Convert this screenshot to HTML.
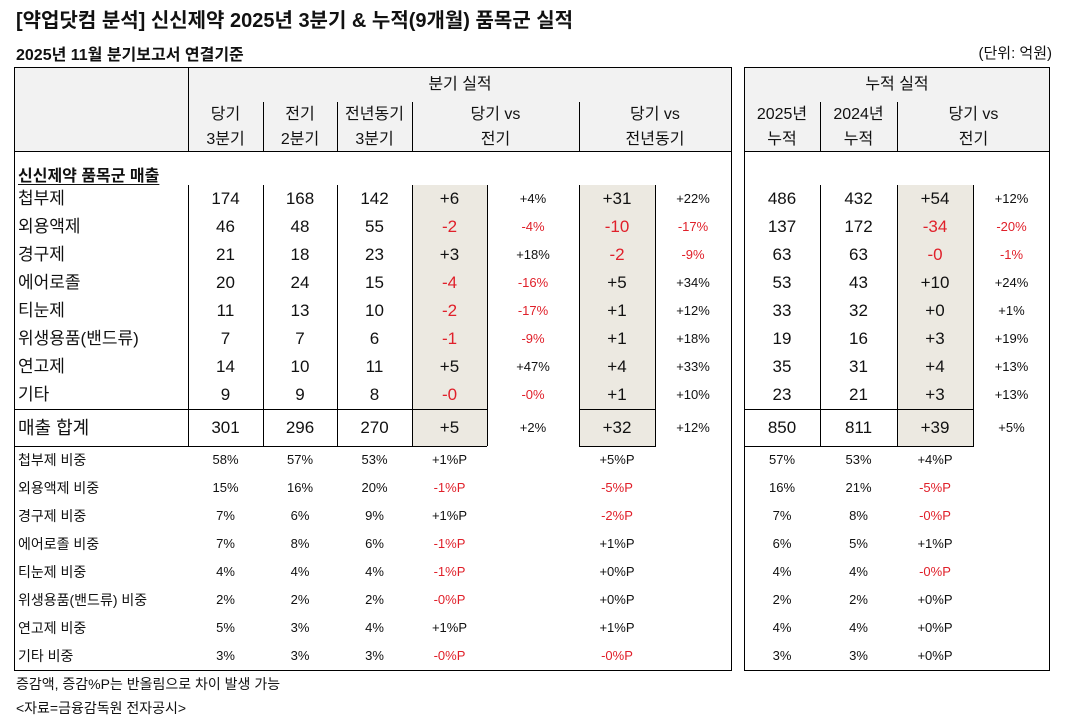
<!DOCTYPE html>
<html><head><meta charset="utf-8"><style>
*{margin:0;padding:0;box-sizing:border-box}
body{width:1068px;height:720px;background:#fff;position:relative;overflow:hidden;font-family:"Liberation Sans","Noto Sans CJK KR","NanumGothic",sans-serif;color:#111}
div{position:absolute}
.t{white-space:nowrap}
.v{width:1px;background:#000}
.h{height:1px;background:#000}
.sh{background:#ecE9E1}
.r{height:28px;line-height:28px;font-size:17px;text-align:center}
.s{height:28px;line-height:28px;font-size:13px;text-align:center}
.red{color:#e0202a}
.L{left:18px;text-align:left}
.a{left:188px;width:75px}.b{left:263px;width:74px}.c{left:337px;width:75px}.d{left:412px;width:75px}
.e{left:487px;width:92px}.f{left:579px;width:76px}.g{left:655px;width:76px}
.p{left:744px;width:76px}.q{left:820px;width:77px}.w{left:897px;width:76px}.x{left:973px;width:77px}
.hd{font-size:16px;text-align:center;line-height:25px}
</style></head><body>
<div class="t" style="left:16px;top:4px;font-size:20px;font-weight:bold">[약업닷컴 분석] 신신제약 2025년 3분기 &amp; 누적(9개월) 품목군 실적</div>
<div class="t" style="left:16px;top:41px;font-size:16px;font-weight:bold">2025년 11월 분기보고서 연결기준</div>
<div class="t" style="right:16px;top:42px;font-size:15px">(단위: 억원)</div>

<div style="left:14px;top:67px;width:718px;height:84px;background:#f2f2f2"></div>
<div style="left:744px;top:67px;width:306px;height:84px;background:#f2f2f2"></div>
<div class="sh" style="left:412px;top:185px;width:75px;height:261px"></div>
<div class="sh" style="left:579px;top:185px;width:76px;height:261px"></div>
<div class="sh" style="left:897px;top:185px;width:76px;height:261px"></div>

<div style="left:14px;top:67px;width:718px;height:604px;border:1px solid #000"></div>
<div style="left:744px;top:67px;width:306px;height:604px;border:1px solid #000"></div>
<div class="h" style="left:14px;top:151px;width:718px"></div>
<div class="h" style="left:744px;top:151px;width:306px"></div>
<div class="v" style="left:188px;top:67px;height:84px"></div>
<div class="v" style="left:263px;top:102px;height:49px"></div>
<div class="v" style="left:337px;top:102px;height:49px"></div>
<div class="v" style="left:412px;top:102px;height:49px"></div>
<div class="v" style="left:579px;top:102px;height:49px"></div>
<div class="v" style="left:820px;top:102px;height:49px"></div>
<div class="v" style="left:897px;top:102px;height:49px"></div>
<div class="v" style="left:188px;top:185px;height:261px"></div>
<div class="v" style="left:263px;top:185px;height:261px"></div>
<div class="v" style="left:337px;top:185px;height:261px"></div>
<div class="v" style="left:412px;top:185px;height:261px"></div>
<div class="v" style="left:487px;top:185px;height:261px"></div>
<div class="v" style="left:579px;top:185px;height:261px"></div>
<div class="v" style="left:655px;top:185px;height:261px"></div>
<div class="v" style="left:820px;top:185px;height:261px"></div>
<div class="v" style="left:897px;top:185px;height:261px"></div>
<div class="v" style="left:973px;top:185px;height:261px"></div>
<div class="h" style="left:14px;top:409px;width:473px"></div>
<div class="h" style="left:14px;top:446px;width:473px"></div>
<div class="h" style="left:579px;top:409px;width:77px"></div>
<div class="h" style="left:579px;top:446px;width:77px"></div>
<div class="h" style="left:744px;top:409px;width:230px"></div>
<div class="h" style="left:744px;top:446px;width:230px"></div>

<div class="hd" style="left:188px;width:544px;top:72px">분기 실적</div>
<div class="hd" style="left:744px;width:306px;top:72px">누적 실적</div>
<div class="hd a" style="top:102px">당기<br>3분기</div>
<div class="hd b" style="top:102px">전기<br>2분기</div>
<div class="hd c" style="top:102px">전년동기<br>3분기</div>
<div class="hd" style="left:412px;width:167px;top:102px">당기 vs<br>전기</div>
<div class="hd" style="left:579px;width:152px;top:102px">당기 vs<br>전년동기</div>
<div class="hd p" style="top:102px">2025년<br>누적</div>
<div class="hd q" style="top:102px">2024년<br>누적</div>
<div class="hd" style="left:897px;width:153px;top:102px">당기 vs<br>전기</div>
<div class="t" style="left:18px;top:162px;font-size:16px;font-weight:bold;text-decoration:underline;text-underline-offset:3px">신신제약 품목군 매출</div>

<div class="r t L" style="top:185px">첩부제</div><div class="r a" style="top:185px">174</div><div class="r b" style="top:185px">168</div><div class="r c" style="top:185px">142</div><div class="r d" style="top:185px">+6</div><div class="s e" style="top:185px">+4%</div><div class="r f" style="top:185px">+31</div><div class="s g" style="top:185px">+22%</div><div class="r p" style="top:185px">486</div><div class="r q" style="top:185px">432</div><div class="r w" style="top:185px">+54</div><div class="s x" style="top:185px">+12%</div>
<div class="r t L" style="top:213px">외용액제</div><div class="r a" style="top:213px">46</div><div class="r b" style="top:213px">48</div><div class="r c" style="top:213px">55</div><div class="r d red" style="top:213px">-2</div><div class="s e red" style="top:213px">-4%</div><div class="r f red" style="top:213px">-10</div><div class="s g red" style="top:213px">-17%</div><div class="r p" style="top:213px">137</div><div class="r q" style="top:213px">172</div><div class="r w red" style="top:213px">-34</div><div class="s x red" style="top:213px">-20%</div>
<div class="r t L" style="top:241px">경구제</div><div class="r a" style="top:241px">21</div><div class="r b" style="top:241px">18</div><div class="r c" style="top:241px">23</div><div class="r d" style="top:241px">+3</div><div class="s e" style="top:241px">+18%</div><div class="r f red" style="top:241px">-2</div><div class="s g red" style="top:241px">-9%</div><div class="r p" style="top:241px">63</div><div class="r q" style="top:241px">63</div><div class="r w red" style="top:241px">-0</div><div class="s x red" style="top:241px">-1%</div>
<div class="r t L" style="top:269px">에어로졸</div><div class="r a" style="top:269px">20</div><div class="r b" style="top:269px">24</div><div class="r c" style="top:269px">15</div><div class="r d red" style="top:269px">-4</div><div class="s e red" style="top:269px">-16%</div><div class="r f" style="top:269px">+5</div><div class="s g" style="top:269px">+34%</div><div class="r p" style="top:269px">53</div><div class="r q" style="top:269px">43</div><div class="r w" style="top:269px">+10</div><div class="s x" style="top:269px">+24%</div>
<div class="r t L" style="top:297px">티눈제</div><div class="r a" style="top:297px">11</div><div class="r b" style="top:297px">13</div><div class="r c" style="top:297px">10</div><div class="r d red" style="top:297px">-2</div><div class="s e red" style="top:297px">-17%</div><div class="r f" style="top:297px">+1</div><div class="s g" style="top:297px">+12%</div><div class="r p" style="top:297px">33</div><div class="r q" style="top:297px">32</div><div class="r w" style="top:297px">+0</div><div class="s x" style="top:297px">+1%</div>
<div class="r t L" style="top:325px">위생용품(밴드류)</div><div class="r a" style="top:325px">7</div><div class="r b" style="top:325px">7</div><div class="r c" style="top:325px">6</div><div class="r d red" style="top:325px">-1</div><div class="s e red" style="top:325px">-9%</div><div class="r f" style="top:325px">+1</div><div class="s g" style="top:325px">+18%</div><div class="r p" style="top:325px">19</div><div class="r q" style="top:325px">16</div><div class="r w" style="top:325px">+3</div><div class="s x" style="top:325px">+19%</div>
<div class="r t L" style="top:353px">연고제</div><div class="r a" style="top:353px">14</div><div class="r b" style="top:353px">10</div><div class="r c" style="top:353px">11</div><div class="r d" style="top:353px">+5</div><div class="s e" style="top:353px">+47%</div><div class="r f" style="top:353px">+4</div><div class="s g" style="top:353px">+33%</div><div class="r p" style="top:353px">35</div><div class="r q" style="top:353px">31</div><div class="r w" style="top:353px">+4</div><div class="s x" style="top:353px">+13%</div>
<div class="r t L" style="top:381px">기타</div><div class="r a" style="top:381px">9</div><div class="r b" style="top:381px">9</div><div class="r c" style="top:381px">8</div><div class="r d red" style="top:381px">-0</div><div class="s e red" style="top:381px">-0%</div><div class="r f" style="top:381px">+1</div><div class="s g" style="top:381px">+10%</div><div class="r p" style="top:381px">23</div><div class="r q" style="top:381px">21</div><div class="r w" style="top:381px">+3</div><div class="s x" style="top:381px">+13%</div>
<div class="r t L" style="top:414px;font-size:18px">매출 합계</div><div class="r a" style="top:414px">301</div><div class="r b" style="top:414px">296</div><div class="r c" style="top:414px">270</div><div class="r d" style="top:414px">+5</div><div class="s e" style="top:414px">+2%</div><div class="r f" style="top:414px">+32</div><div class="s g" style="top:414px">+12%</div><div class="r p" style="top:414px">850</div><div class="r q" style="top:414px">811</div><div class="r w" style="top:414px">+39</div><div class="s x" style="top:414px">+5%</div>

<div class="s t L" style="top:446px;font-size:14px">첩부제 비중</div><div class="s a" style="top:446px">58%</div><div class="s b" style="top:446px">57%</div><div class="s c" style="top:446px">53%</div><div class="s d" style="top:446px">+1%P</div><div class="s f" style="top:446px">+5%P</div><div class="s p" style="top:446px">57%</div><div class="s q" style="top:446px">53%</div><div class="s w" style="top:446px">+4%P</div>
<div class="s t L" style="top:474px;font-size:14px">외용액제 비중</div><div class="s a" style="top:474px">15%</div><div class="s b" style="top:474px">16%</div><div class="s c" style="top:474px">20%</div><div class="s d red" style="top:474px">-1%P</div><div class="s f red" style="top:474px">-5%P</div><div class="s p" style="top:474px">16%</div><div class="s q" style="top:474px">21%</div><div class="s w red" style="top:474px">-5%P</div>
<div class="s t L" style="top:502px;font-size:14px">경구제 비중</div><div class="s a" style="top:502px">7%</div><div class="s b" style="top:502px">6%</div><div class="s c" style="top:502px">9%</div><div class="s d" style="top:502px">+1%P</div><div class="s f red" style="top:502px">-2%P</div><div class="s p" style="top:502px">7%</div><div class="s q" style="top:502px">8%</div><div class="s w red" style="top:502px">-0%P</div>
<div class="s t L" style="top:530px;font-size:14px">에어로졸 비중</div><div class="s a" style="top:530px">7%</div><div class="s b" style="top:530px">8%</div><div class="s c" style="top:530px">6%</div><div class="s d red" style="top:530px">-1%P</div><div class="s f" style="top:530px">+1%P</div><div class="s p" style="top:530px">6%</div><div class="s q" style="top:530px">5%</div><div class="s w" style="top:530px">+1%P</div>
<div class="s t L" style="top:558px;font-size:14px">티눈제 비중</div><div class="s a" style="top:558px">4%</div><div class="s b" style="top:558px">4%</div><div class="s c" style="top:558px">4%</div><div class="s d red" style="top:558px">-1%P</div><div class="s f" style="top:558px">+0%P</div><div class="s p" style="top:558px">4%</div><div class="s q" style="top:558px">4%</div><div class="s w red" style="top:558px">-0%P</div>
<div class="s t L" style="top:586px;font-size:14px">위생용품(밴드류) 비중</div><div class="s a" style="top:586px">2%</div><div class="s b" style="top:586px">2%</div><div class="s c" style="top:586px">2%</div><div class="s d red" style="top:586px">-0%P</div><div class="s f" style="top:586px">+0%P</div><div class="s p" style="top:586px">2%</div><div class="s q" style="top:586px">2%</div><div class="s w" style="top:586px">+0%P</div>
<div class="s t L" style="top:614px;font-size:14px">연고제 비중</div><div class="s a" style="top:614px">5%</div><div class="s b" style="top:614px">3%</div><div class="s c" style="top:614px">4%</div><div class="s d" style="top:614px">+1%P</div><div class="s f" style="top:614px">+1%P</div><div class="s p" style="top:614px">4%</div><div class="s q" style="top:614px">4%</div><div class="s w" style="top:614px">+0%P</div>
<div class="s t L" style="top:642px;font-size:14px">기타 비중</div><div class="s a" style="top:642px">3%</div><div class="s b" style="top:642px">3%</div><div class="s c" style="top:642px">3%</div><div class="s d red" style="top:642px">-0%P</div><div class="s f red" style="top:642px">-0%P</div><div class="s p" style="top:642px">3%</div><div class="s q" style="top:642px">3%</div><div class="s w" style="top:642px">+0%P</div>

<div class="t" style="left:16px;top:674px;font-size:14px">증감액, 증감%P는 반올림으로 차이 발생 가능</div>
<div class="t" style="left:16px;top:698px;font-size:14px">&lt;자료=금융감독원 전자공시&gt;</div>
</body></html>
